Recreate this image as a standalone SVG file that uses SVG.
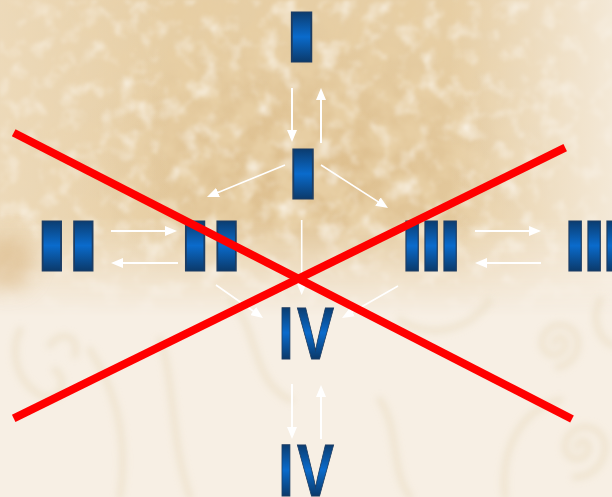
<svg xmlns="http://www.w3.org/2000/svg" width="612" height="497" viewBox="0 0 612 497">
  <defs>
    <style>
      .num { font-family: "Liberation Sans", Arial, sans-serif; font-weight: bold; fill: url(#blue); stroke: #1d3d63; stroke-width: 1; }
      .arr { stroke: #ffffff; stroke-width: 2; fill: none; marker-end: url(#ah); }
      .thin { stroke-width: 1.6; }
      .cross { stroke: #ff0000; stroke-width: 8; fill: none; }
      .orn { fill: none; stroke: #e9dbc0; stroke-width: 7; stroke-linecap: round; opacity: 0.5; }
    </style>
    <linearGradient id="blue" x1="0" y1="0" x2="0" y2="1">
      <stop offset="0.17" stop-color="#0b3867"/>
      <stop offset="0.5" stop-color="#0a6bcc"/>
      <stop offset="0.82" stop-color="#0b3867"/>
    </linearGradient>
    <marker id="ah" markerUnits="userSpaceOnUse" markerWidth="12" markerHeight="10" refX="6" refY="5" orient="auto">
      <path d="M0,0 L12,5 L0,10 Z" fill="#ffffff"/>
    </marker>
    <filter id="noiseDark" filterUnits="userSpaceOnUse" x="0" y="0" width="612" height="340">
      <feTurbulence type="fractalNoise" baseFrequency="0.04" numOctaves="3" seed="7"/>
      <feColorMatrix type="matrix" values="0 0 0 0 0.80  0 0 0 0 0.62  0 0 0 0 0.37  3.0 0 0 0 -1.05"/>
      <feGaussianBlur stdDeviation="1.2"/>
    </filter>
    <filter id="noiseLight" filterUnits="userSpaceOnUse" x="0" y="0" width="612" height="340">
      <feTurbulence type="fractalNoise" baseFrequency="0.05" numOctaves="3" seed="21"/>
      <feColorMatrix type="matrix" values="0 0 0 0 0.96  0 0 0 0 0.91  0 0 0 0 0.82  0 2.0 0 0 -0.98"/>
      <feGaussianBlur stdDeviation="1.5"/>
    </filter>
    <filter id="blur3"><feGaussianBlur stdDeviation="3"/></filter>
    <filter id="blur10" x="-1" y="-1" width="3" height="3"><feGaussianBlur stdDeviation="10"/></filter>
    <linearGradient id="vfade" gradientUnits="userSpaceOnUse" x1="0" y1="0" x2="0" y2="340">
      <stop offset="0" stop-color="#fff"/>
      <stop offset="0.64" stop-color="#fff"/>
      <stop offset="0.93" stop-color="#000"/>
    </linearGradient>
    <mask id="topMask" maskUnits="userSpaceOnUse" x="0" y="0" width="612" height="497">
      <rect x="0" y="0" width="612" height="340" fill="url(#vfade)"/>
    </mask>
    <radialGradient id="center" gradientUnits="userSpaceOnUse" cx="310" cy="170" r="240" gradientTransform="translate(310 170) scale(1 0.65) translate(-310 -170)">
      <stop offset="0" stop-color="#cfa567" stop-opacity="0.4"/>
      <stop offset="1" stop-color="#cfa567" stop-opacity="0"/>
    </radialGradient>
    <linearGradient id="rfade" gradientUnits="userSpaceOnUse" x1="450" y1="0" x2="612" y2="0">
      <stop offset="0" stop-color="#f7efe3" stop-opacity="0"/>
      <stop offset="1" stop-color="#f7efe3" stop-opacity="0.8"/>
    </linearGradient>
    <linearGradient id="lfade" gradientUnits="userSpaceOnUse" x1="0" y1="0" x2="170" y2="0">
      <stop offset="0" stop-color="#f4e7d2" stop-opacity="0.45"/>
      <stop offset="1" stop-color="#f4e7d2" stop-opacity="0"/>
    </linearGradient>
  </defs>

  <!-- background -->
  <rect x="0" y="0" width="612" height="497" fill="#f7efe4"/>
  <g mask="url(#topMask)">
    <rect x="0" y="0" width="612" height="340" fill="#e6cea5"/>
    <rect x="0" y="0" width="612" height="340" fill="url(#center)"/>
    <rect x="0" y="0" width="612" height="340" filter="url(#noiseDark)"/>
    <rect x="0" y="0" width="612" height="340" filter="url(#noiseLight)"/>
    <rect x="0" y="0" width="612" height="340" fill="url(#lfade)"/>
    <rect x="0" y="0" width="612" height="340" fill="url(#rfade)"/>
  </g>
  <ellipse cx="8" cy="262" rx="26" ry="28" fill="#d8b27c" opacity="0.55" filter="url(#blur10)"/>
  <g filter="url(#blur3)">
    <path class="orn" d="M560,343 m-6,0 a6,6 0 1 1 12,0 a12,12 0 1 1 -24,0 a18,18 0 1 1 36,0 a24,24 0 0 1 -20,24"/>
    <path class="orn" d="M583,447 m-6,0 a6,6 0 1 1 12,0 a12,12 0 1 1 -24,0 a20,20 0 1 1 40,0 a30,30 0 0 1 -30,30"/>
    <path class="orn" d="M560,400 C520,410 500,450 505,497"/>
    <path class="orn" d="M20,330 C10,350 15,380 40,395 C60,405 70,380 55,370"/>
    <path class="orn" d="M50,345 C60,330 80,335 75,355"/>
    <path class="orn" d="M90,350 C110,380 130,430 120,497"/>
    <path class="orn" d="M160,340 C175,380 170,440 190,497"/>
    <path class="orn" d="M230,300 C260,330 250,380 290,400"/>
    <path class="orn" d="M400,320 C430,340 470,330 490,300"/>
    <path class="orn" d="M380,400 C400,430 390,470 410,497"/>
    <path class="orn" d="M600,300 C590,320 600,340 612,345"/>
  </g>

  <!-- connectors -->
  <g id="connectors">
    <line class="arr" x1="292" y1="88" x2="292" y2="136"/>
    <line class="arr" x1="321" y1="143" x2="321" y2="94"/>
    <line class="arr thin" x1="285" y1="165" x2="212.5" y2="194.7"/>
    <line class="arr thin" x1="321" y1="165" x2="383" y2="204.8"/>
    <line class="arr thin" x1="301.7" y1="220" x2="301.7" y2="289"/>
    <line class="arr" x1="111" y1="231" x2="171" y2="231"/>
    <line class="arr" x1="178" y1="263" x2="117" y2="263"/>
    <line class="arr" x1="475" y1="231" x2="535" y2="231"/>
    <line class="arr" x1="541" y1="263" x2="481" y2="263"/>
    <line class="arr thin" x1="216" y1="285" x2="258.1" y2="314.5"/>
    <line class="arr thin" x1="398" y1="286" x2="347.2" y2="315"/>
    <line class="arr" x1="292" y1="384" x2="292" y2="433"/>
    <line class="arr" x1="321" y1="439" x2="321" y2="391"/>
  </g>

  <!-- nodes -->
  <g id="node-I-top">
    <text class="num" font-size="73" text-anchor="middle" transform="translate(301.5,62) scale(1.855,1)">I</text>
  </g>
  <g id="node-I-mid">
    <text class="num" font-size="73" text-anchor="middle" transform="translate(303,199) scale(1.855,1)">I</text>
  </g>
  <g id="node-II-left">
    <text class="num" font-size="73" letter-spacing="-2.38" transform="translate(34,271) scale(1.76,1)">II</text>
  </g>
  <g id="node-II-mid">
    <text class="num" font-size="73" letter-spacing="-2.38" transform="translate(177.3,271) scale(1.76,1)">II</text>
  </g>
  <g id="node-III-mid">
    <text class="num" font-size="73" letter-spacing="-4.04" transform="translate(400.2,271) scale(1.17,1)">III</text>
  </g>
  <g id="node-III-right">
    <text class="num" font-size="73" letter-spacing="-4.04" transform="translate(563.2,271) scale(1.17,1)">III</text>
  </g>
  <g id="node-IV-mid">
    <text class="num" font-size="75" letter-spacing="4.6" transform="translate(278.2,359) scale(0.74,1)">IV</text>
  </g>
  <g id="node-IV-bottom">
    <text class="num" font-size="75" letter-spacing="4.6" transform="translate(278.2,496) scale(0.74,1)">IV</text>
  </g>

  <!-- red cross -->
  <g id="cross">
    <line class="cross" x1="13.7" y1="132.7" x2="572" y2="419"/>
    <line class="cross" x1="13.7" y1="418.3" x2="565.2" y2="147.7"/>
  </g>
</svg>
